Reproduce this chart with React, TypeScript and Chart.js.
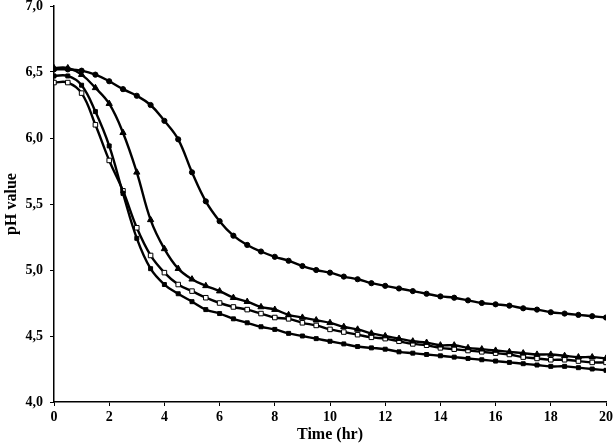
import React, { useEffect, useRef } from "react";
import { Chart, registerables } from "chart.js";

Chart.register(...registerables);

const timeHr = [0, 0.5, 1, 1.5, 2, 2.5, 3, 3.5, 4, 4.5, 5, 5.5, 6, 6.5, 7, 7.5, 8, 8.5, 9, 9.5, 10, 10.5, 11, 11.5, 12, 12.5, 13, 13.5, 14, 14.5, 15, 15.5, 16, 16.5, 17, 17.5, 18, 18.5, 19, 19.5, 20];

const phCircle = [6.52, 6.52, 6.51, 6.48, 6.43, 6.37, 6.32, 6.25, 6.13, 5.99, 5.74, 5.52, 5.37, 5.26, 5.19, 5.14, 5.10, 5.07, 5.03, 5.00, 4.98, 4.95, 4.93, 4.90, 4.88, 4.86, 4.84, 4.82, 4.80, 4.79, 4.77, 4.75, 4.74, 4.73, 4.71, 4.70, 4.68, 4.67, 4.66, 4.65, 4.64];

const phTriangle = [6.53, 6.53, 6.48, 6.38, 6.26, 6.04, 5.74, 5.38, 5.16, 5.01, 4.93, 4.88, 4.84, 4.79, 4.76, 4.72, 4.70, 4.66, 4.64, 4.62, 4.60, 4.57, 4.55, 4.52, 4.50, 4.48, 4.46, 4.45, 4.43, 4.43, 4.41, 4.40, 4.39, 4.38, 4.37, 4.36, 4.36, 4.35, 4.34, 4.34, 4.33];

const phOpenSquare = [6.42, 6.42, 6.34, 6.10, 5.83, 5.60, 5.32, 5.11, 4.98, 4.89, 4.84, 4.79, 4.75, 4.72, 4.70, 4.67, 4.64, 4.63, 4.60, 4.58, 4.55, 4.53, 4.51, 4.49, 4.48, 4.46, 4.44, 4.43, 4.41, 4.40, 4.39, 4.38, 4.37, 4.36, 4.34, 4.33, 4.32, 4.32, 4.31, 4.30, 4.30];

const phFilledSquare = [6.47, 6.47, 6.40, 6.20, 5.94, 5.58, 5.24, 5.01, 4.89, 4.82, 4.76, 4.70, 4.67, 4.63, 4.60, 4.57, 4.55, 4.52, 4.50, 4.48, 4.46, 4.44, 4.42, 4.41, 4.40, 4.38, 4.37, 4.36, 4.35, 4.34, 4.33, 4.32, 4.31, 4.30, 4.29, 4.28, 4.27, 4.27, 4.26, 4.25, 4.24];

const FONT = "'Liberation Serif', 'Times New Roman', serif";

export default function App() {
  const ref = useRef<HTMLCanvasElement>(null);

  useEffect(() => {
    const canvas = ref.current;
    if (!canvas) return;
    const mk = (vals: number[]) => timeHr.map((x, i) => ({ x, y: vals[i] }));
    const base = {
      borderColor: "#000",
      borderWidth: 2.4,
      tension: 0.4,
      pointBorderColor: "#000",
      pointBorderWidth: 1,
      fill: false,
    };
    const chart = new Chart(canvas, {
      type: "line",
      data: {
        datasets: [
          { ...base, data: mk(phCircle), pointStyle: "circle", pointRadius: 2.6, pointBackgroundColor: "#000" },
          { ...base, data: mk(phTriangle), pointStyle: "triangle", pointRadius: 3.6, pointBackgroundColor: "#000" },
          { ...base, data: mk(phFilledSquare), pointStyle: "rect", pointRadius: 2.8, pointBackgroundColor: "#000" },
          { ...base, data: mk(phOpenSquare), pointStyle: "rect", pointRadius: 3.2, pointBackgroundColor: "#fff" },
        ],
      },
      options: {
        responsive: false,
        animation: false,
        layout: { padding: { left: 0, right: 8, top: 6, bottom: 0 } },
        plugins: { legend: { display: false }, tooltip: { enabled: false } },
        scales: {
          x: {
            type: "linear",
            min: 0,
            max: 20,
            ticks: {
              stepSize: 2,
              color: "#000",
              padding: 3,
              font: { family: FONT, size: 14, weight: "bold" },
            },
            grid: { drawOnChartArea: false, tickLength: 4, color: "#000" },
            border: { color: "#000", width: 1.5 },
            title: {
              display: true,
              text: "Time (hr)",
              color: "#000",
              padding: { top: 0, bottom: 0 },
              font: { family: FONT, size: 16, weight: "bold" },
            },
            afterFit: (axis: any) => {
              axis.height = 42;
              axis.paddingLeft = 0;
              axis.paddingRight = 0;
            },
          },
          y: {
            type: "linear",
            min: 4,
            max: 7,
            ticks: {
              stepSize: 0.5,
              color: "#000",
              padding: 7,
              font: { family: FONT, size: 14, weight: "bold" },
              callback: (v: any) => Number(v).toFixed(1).replace(".", ","),
            },
            grid: { drawOnChartArea: false, tickLength: 4, color: "#000" },
            border: { color: "#000", width: 1.5 },
            title: {
              display: true,
              text: "pH value",
              color: "#000",
              padding: { top: 2, bottom: 0 },
              font: { family: FONT, size: 16, weight: "bold" },
            },
            afterFit: (axis: any) => {
              axis.width = 54;
              axis.paddingTop = 0;
              axis.paddingBottom = 0;
            },
          },
        },
      },
    });
    return () => chart.destroy();
  }, []);

  return (
    <div style={{ position: "fixed", left: 0, top: 0, width: 614, height: 444, background: "#fff" }}>
      <canvas ref={ref} width={614} height={444} style={{ display: "block", width: 614, height: 444 }} />
    </div>
  );
}
